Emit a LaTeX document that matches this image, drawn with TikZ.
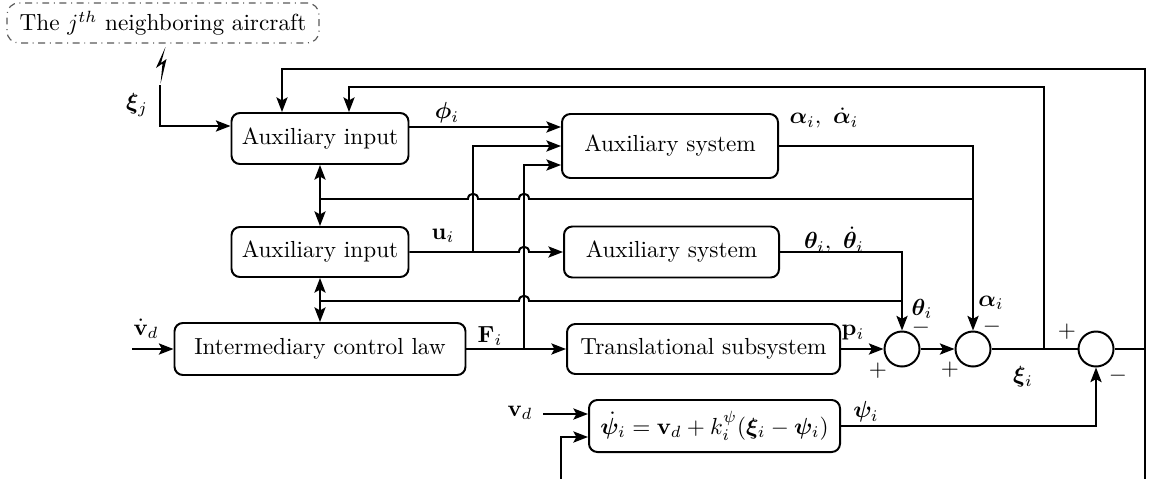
\documentclass[tikz,border=0pt]{standalone}
\usepackage{amsmath,bm}
\usetikzlibrary{arrows.meta}
\newcommand\pxu{0.43pt}
\tikzset{
  blk/.style={draw, line width=0.85pt, rounded corners=3.6pt, inner sep=0pt, align=center},
  sumn/.style={draw, line width=0.85pt, circle, minimum size=35*\pxu, inner sep=0pt},
  ln/.style={line width=0.85pt},
  arr/.style={line width=0.85pt, -{Stealth[length=6.3pt,width=4.8pt,inset=1.3pt]}},
  lbl/.style={inner sep=0pt},
}
\begin{document}
\begin{tikzpicture}[x=\pxu, y=-\pxu]
\useasboundingbox (0,0) rectangle (1150,478);
% nodes
\node[draw=black!65, dash dot, line width=0.5pt, rounded corners=5pt, minimum width=312*\pxu, minimum height=40*\pxu, inner sep=0pt] (cloud) at (163,23) {The $j^{th}$ neighboring aircraft};
\node[blk, minimum width=177*\pxu, minimum height=51*\pxu] (ai1) at (320,138.5) {Auxiliary input};
\node[blk, minimum width=177*\pxu, minimum height=50*\pxu] (ai2) at (320,252) {Auxiliary input};
\node[blk, minimum width=291*\pxu, minimum height=52*\pxu] (icl) at (320,349) {Intermediary control law};
\node[blk, minimum width=216*\pxu, minimum height=64*\pxu] (as1) at (670,146) {Auxiliary system};
\node[blk, minimum width=215*\pxu, minimum height=51*\pxu] (as2) at (671.5,252) {Auxiliary system};
\node[blk, minimum width=273*\pxu, minimum height=50*\pxu] (ts) at (703.5,349) {Translational subsystem};
\node[blk, minimum width=251*\pxu, minimum height=52*\pxu] (psi) at (714.5,426) {$\dot{\bm{\psi}}_i=\mathbf{v}_d+k_i^{\psi}(\bm{\xi}_i-\bm{\psi}_i)$};
\node[sumn] (s1) at (902,349) {};
\node[sumn] (s2) at (973,349) {};
\node[sumn] (s3) at (1096,349) {};
% coordinates
\coordinate (xj) at (160,85);
\coordinate (vdd) at (132,349);
\coordinate (vd) at (543,414);
\coordinate (jxi) at (1044,349);
\coordinate (rtop) at (1145,69);
\coordinate (rbot) at (1145,490);
\coordinate (lbot) at (561,490);
\coordinate (b1) at (320,199);
\coordinate (b2) at (320,301);
% lightning
\fill (165.5,47) -- (156,68) -- (162.5,63.5) -- (160.5,84) -- (166.5,59) -- (161,63) -- cycle;
% connectors
\draw[arr] (xj) |- ([yshift=12.5*\pxu]ai1.west);
\draw[arr] (vdd) -- (icl.west);
\draw[arr] (vd) -- ([yshift=12*\pxu]psi.west);
\draw[arr] ([yshift=11.5*\pxu]ai1.east) -- ([yshift=19*\pxu]as1.west);
% u_i
\draw[arr] (ai2.east) -- (519,252) .. controls (519,245) and (529,245) .. (529,252) -- (as2.west);
\draw[arr] (473,252) |- (as1.west);
% F_i
\draw[arr] (icl.east) -- (ts.west);
\draw[arr] (524,349) |- ([yshift=-19*\pxu]as1.west);
% bidirectional links
\draw[ln] (b1) -- (468,199) .. controls (468,192) and (478,192) .. (478,199) -- (519,199) .. controls (519,192) and (529,192) .. (529,199) -- (973,199);
\draw[arr] (b1) -- (ai1.south);
\draw[arr] (b1) -- (ai2.north);
\draw[ln] (b2) -- (519,301) .. controls (519,294) and (529,294) .. (529,301) -- (902,301);
\draw[arr] (b2) -- (ai2.south);
\draw[arr] (b2) -- (icl.north);
% outputs
\draw[arr] (as1.east) -| (s2.north);
\draw[arr] (as2.east) -| (s1.north);
\draw[arr] (ts.east) -- (s1.west);
\draw[arr] (s1.east) -- (s2.west);
\draw[ln] (s2.east) -- (s3.west);
\draw[ln] (s3.east) -- (s3.east -| rtop);
\draw[arr] (psi.east) -| (s3.south);
% feedback
\draw[arr] (rbot) -- (rtop) -| ([xshift=-38*\pxu]ai1.north);
\draw[arr] (jxi) |- (1044,87) -| ([xshift=29*\pxu]ai1.north);
\draw[arr] (rbot) -- (lbot) |- ([yshift=-11*\pxu]psi.west);
% labels
\node[lbl] at (137,105) {$\bm{\xi}_j$};
\node[lbl] at (447,113) {$\bm{\phi}_i$};
\node[lbl] at (443,236) {$\mathbf{u}_i$};
\node[lbl] at (824,118) {$\bm{\alpha}_i,\ \dot{\bm{\alpha}}_i$};
\node[lbl] at (834,240) {$\bm{\theta}_i,\ \dot{\bm{\theta}}_i$};
\node[lbl] at (146,329) {$\dot{\mathbf{v}}_d$};
\node[lbl] at (490,336) {$\mathbf{F}_i$};
\node[lbl] at (853,333) {$\mathbf{p}_i$};
\node[lbl] at (922,309) {$\bm{\theta}_i$};
\node[lbl] at (991,303) {$\bm{\alpha}_i$};
\node[lbl] at (1023,377) {$\bm{\xi}_i$};
\node[lbl] at (866,412) {$\bm{\psi}_i$};
\node[lbl] at (520,413) {$\mathbf{v}_d$};
\node[lbl] at (878,371) {$+$};
\node[lbl] at (921,328) {$-$};
\node[lbl] at (950,370) {$+$};
\node[lbl] at (992,327) {$-$};
\node[lbl] at (1067,332) {$+$};
\node[lbl] at (1118,376) {$-$};
\end{tikzpicture}
\end{document}
